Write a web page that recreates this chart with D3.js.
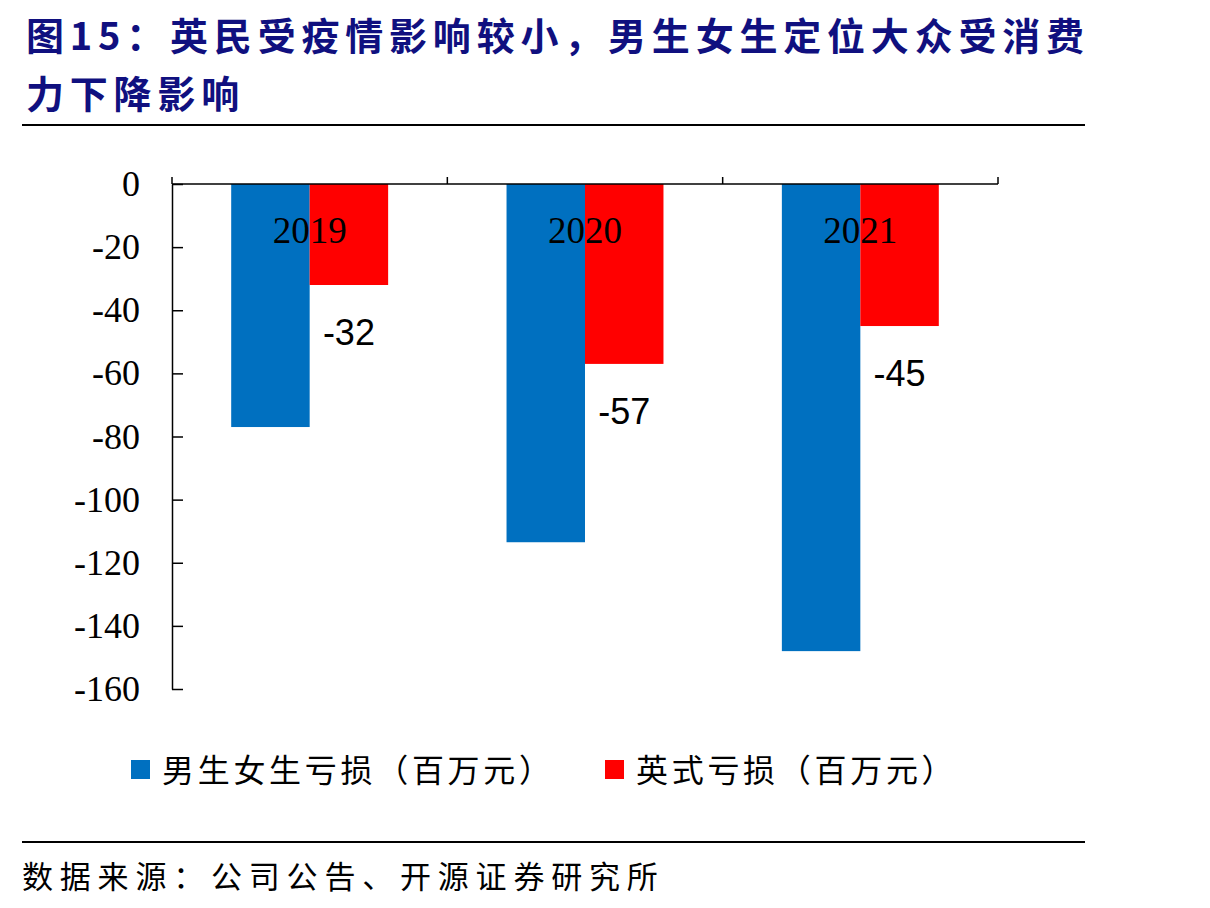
<!DOCTYPE html>
<html>
<head>
<meta charset="utf-8">
<script src="https://cdn.jsdelivr.net/npm/d3@7.9.0/dist/d3.min.js"></script>
<style>
  body { margin: 0; background: #fff; }
  svg { display: block; }
</style>
</head>
<body>
<svg id="chart" width="1210" height="908"></svg>
<script>
const years = ['2019', '2020', '2021'];
const seriesNames = ['男生女生亏损（百万元）', '英式亏损（百万元）'];
const nsnsLoss = [-77, -113.5, -148];
const yingshiLoss = [-32, -57, -45];
const yTicks = [0, -20, -40, -60, -80, -100, -120, -140, -160];
const colors = ['#0070C0', '#FF0000'];

const svg = d3.select('#chart');
const serif = '"Liberation Serif", "Times New Roman", serif';
const cjk = '"Noto Sans CJK SC", sans-serif';

// title
const title = svg.append('g')
  .attr('font-family', cjk)
  .attr('font-weight', 700)
  .attr('fill', '#10107f')
  .attr('font-size', 38)
  .attr('letter-spacing', 5.8);
title.append('text').attr('x', 26).attr('y', 50).text('图15：英民受疫情影响较小，男生女生定位大众受消费');
title.append('text').attr('x', 26).attr('y', 108).text('力下降影响');

svg.append('line').attr('x1', 22).attr('x2', 1085).attr('y1', 125).attr('y2', 125)
  .attr('stroke', '#000').attr('stroke-width', 2);

// scales
let x = d3.scaleBand().domain(years).range([172, 998]).paddingInner(0.43).paddingOuter(0.215);
let step = x.step();
let y = d3.scaleLinear().domain([0, -160]).range([184, 689]);

// bars
const rows = years.map((yr, i) => ({ year: yr, values: [nsnsLoss[i], yingshiLoss[i]] }));
let half = x.bandwidth() / 2;
rows.forEach((r) => {
  r.values.forEach((v, j) => {
    svg.append('rect')
      .attr('x', x(r.year) + j * half)
      .attr('y', y(0))
      .attr('width', half)
      .attr('height', y(v) - y(0))
      .attr('fill', colors[j]);
  });
  // data label only for red series
  svg.append('text')
    .attr('x', x(r.year) + half * 1.5)
    .attr('y', y(r.values[1]) + 47)
    .attr('dy', '0.35em')
    .attr('text-anchor', 'middle')
    .attr('font-family', '"Liberation Sans", Arial, sans-serif')
    .attr('font-size', 36)
    .text(r.values[1]);
});

// y axis
const yAxis = svg.append('g').attr('transform', 'translate(172,0)')
  .call(d3.axisRight(y).tickValues(yTicks).tickSize(11).tickSizeOuter(0).tickFormat((d) => d));
yAxis.attr('font-family', serif).attr('font-size', 36);
yAxis.select('.domain').attr('stroke', '#000').attr('stroke-width', 1.5);
yAxis.selectAll('.tick line').attr('stroke', '#000').attr('stroke-width', 1.5);
yAxis.selectAll('.tick text')
  .attr('x', -32)
  .attr('text-anchor', 'end')
  .style('font-family', serif)
  .style('font-size', '36px')
  .attr('fill', '#000');

// x axis at zero, ticks pointing up between categories
const xAxis = svg.append('g');
xAxis.append('line').attr('x1', 172).attr('x2', 998).attr('y1', y(0)).attr('y2', y(0))
  .attr('stroke', '#000').attr('stroke-width', 1.5);
const bounds = [0, 1, 2, 3].map((k) => 172 + k * step);
bounds.forEach((bx) => {
  xAxis.append('line').attr('x1', bx).attr('x2', bx).attr('y1', y(0) - 7).attr('y2', y(0))
    .attr('stroke', '#000').attr('stroke-width', 1.5);
});

// category labels inside plot
years.forEach((yr) => {
  svg.append('text')
    .attr('x', x(yr) + x.bandwidth() / 2)
    .attr('y', 243)
    .attr('text-anchor', 'middle')
    .attr('font-family', serif)
    .attr('font-size', 37)
    .text(yr);
});

// legend
const legendPos = [131, 605];
seriesNames.forEach((name, i) => {
  svg.append('rect').attr('x', legendPos[i]).attr('y', 760).attr('width', 19).attr('height', 19)
    .attr('fill', colors[i]);
  svg.append('text')
    .attr('x', legendPos[i] + 31)
    .attr('y', 770)
    .attr('dy', '0.36em')
    .attr('font-family', cjk)
    .attr('font-size', 32)
    .attr('letter-spacing', 3.7)
    .text(name);
});

// footer
svg.append('line').attr('x1', 22).attr('x2', 1085).attr('y1', 842).attr('y2', 842)
  .attr('stroke', '#000').attr('stroke-width', 2);
svg.append('text')
  .attr('x', 22).attr('y', 877).attr('dy', '0.36em')
  .attr('font-family', cjk)
  .attr('font-size', 31)
  .attr('letter-spacing', 6.8)
  .text('数据来源：公司公告、开源证券研究所');
</script>
</body>
</html>
